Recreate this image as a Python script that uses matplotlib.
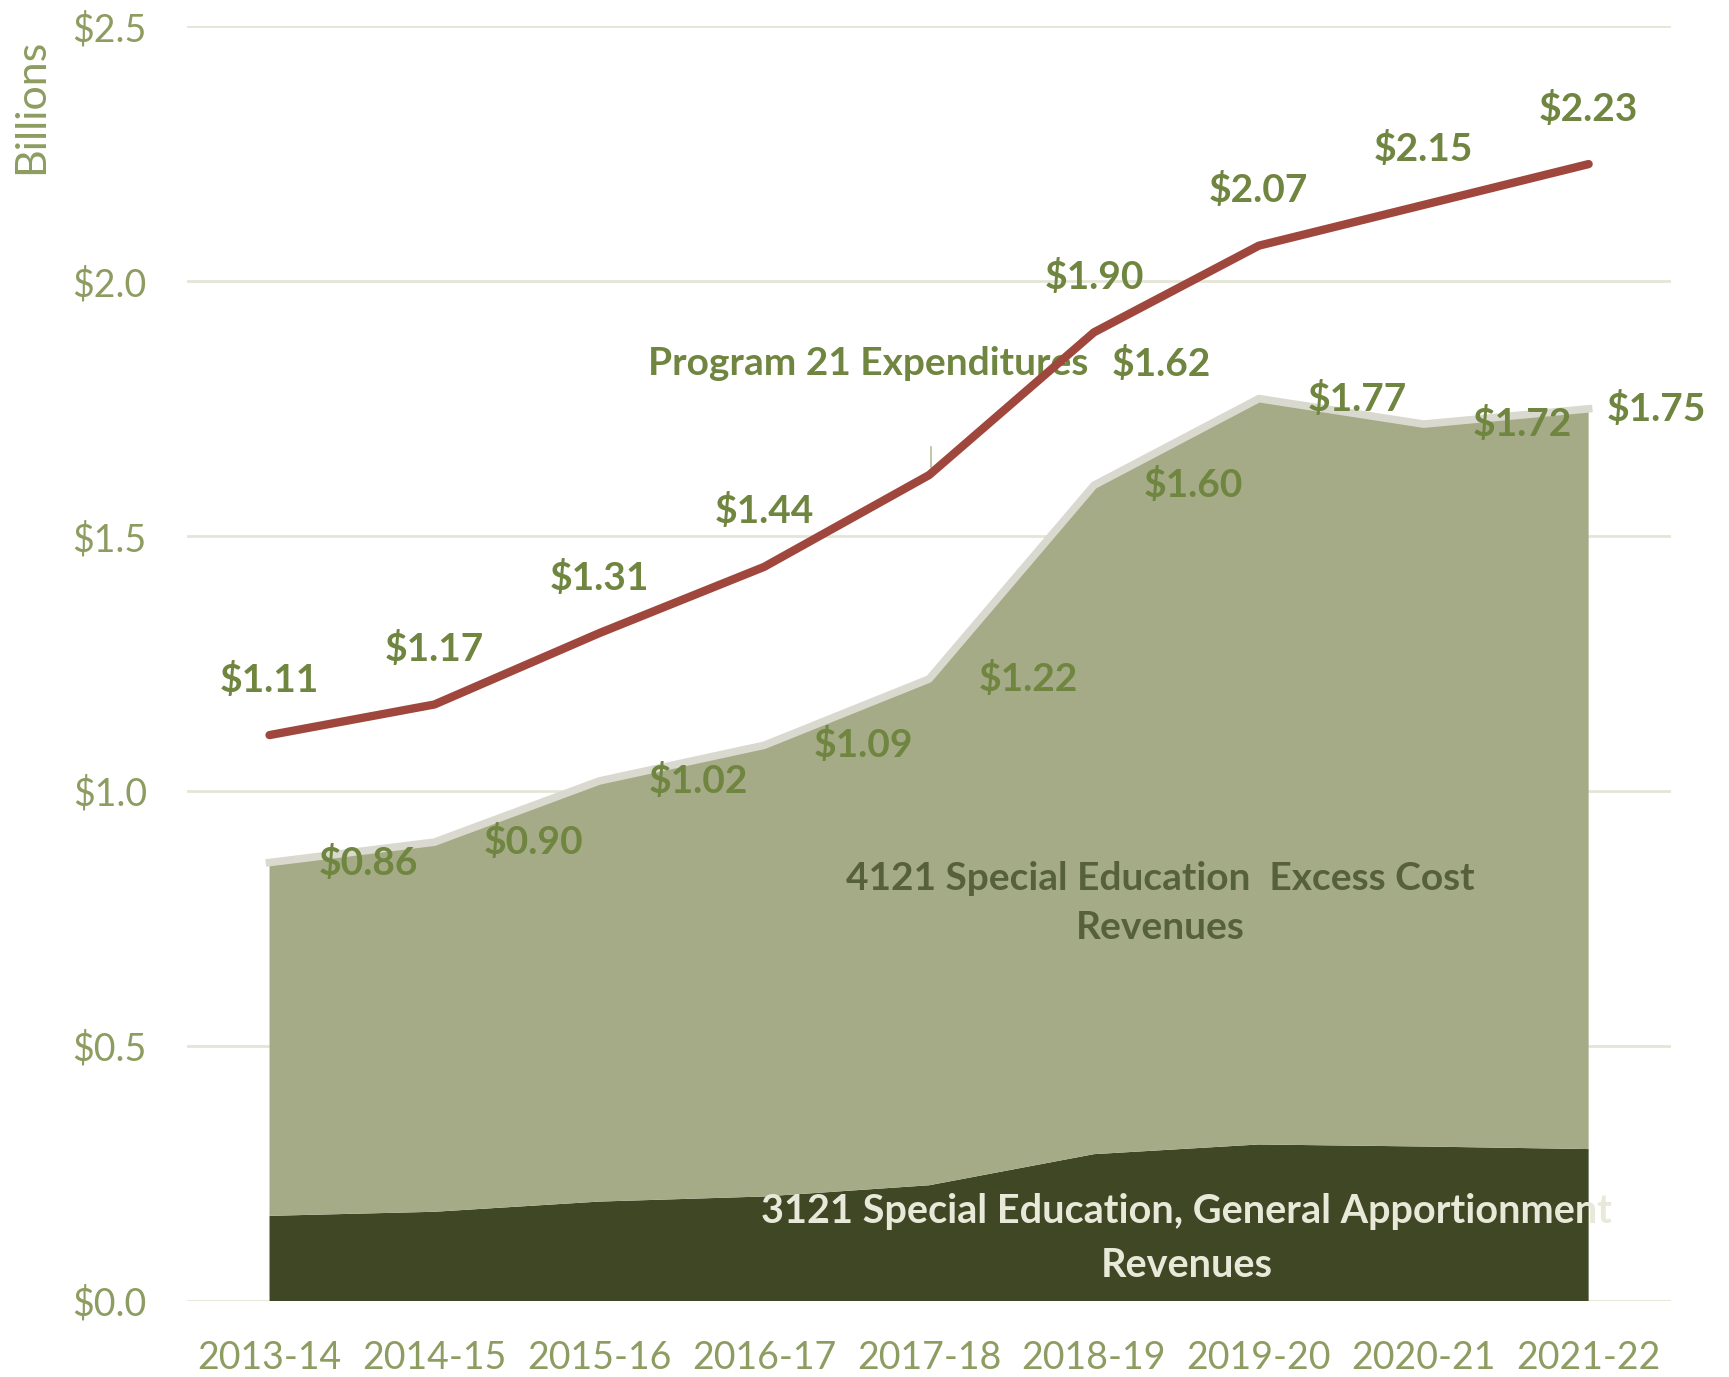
import matplotlib
matplotlib.use("Agg")
import matplotlib.pyplot as plt
import numpy as np

years = ["2013-14", "2014-15", "2015-16", "2016-17", "2017-18",
         "2018-19", "2019-20", "2020-21", "2021-22"]
apportionment_3121 = [0.167, 0.175, 0.195, 0.205, 0.227, 0.288, 0.307, 0.303, 0.298]
total_revenues = [0.86, 0.90, 1.02, 1.09, 1.22, 1.60, 1.77, 1.72, 1.75]
expenditures = [1.11, 1.17, 1.31, 1.44, 1.62, 1.90, 2.07, 2.15, 2.23]
yticks = [0.0, 0.5, 1.0, 1.5, 2.0, 2.5]

plt.rcParams['font.family'] = ['Lato', 'DejaVu Sans']

C_LIGHT = '#a4ab86'
C_DARK = '#404725'
C_RED = '#a0473d'
C_EDGE = '#d9d9cf'
C_LABEL = '#6f8540'
C_TICK = '#8d9c60'
C_GRID = '#e3e6d6'

fig = plt.figure(figsize=(17.29, 13.77), dpi=100)
ax = fig.add_axes([0.1082, 0.0552, 0.8583, 0.9256])

x = np.arange(len(years))
excess = np.array(total_revenues) - np.array(apportionment_3121)

ax.stackplot(x, apportionment_3121, excess, colors=[C_DARK, C_LIGHT], zorder=2)
ax.plot(x, total_revenues, color=C_EDGE, lw=5.5, zorder=3, solid_joinstyle='round')
ax.plot(x, expenditures, color=C_RED, lw=6.0, zorder=6, solid_capstyle='round',
        solid_joinstyle='round')

ax.set_xlim(-0.5, 8.5)
ax.set_ylim(0, 2.5)
ax.set_yticks(yticks)
ax.set_yticklabels([f"${v:.1f}" for v in yticks])
ax.set_xticks(x)
ax.set_xticklabels(years)
ax.tick_params(axis='both', length=0, labelsize=27, colors=C_TICK)
ax.tick_params(axis='y', pad=29)
ax.tick_params(axis='x', pad=28)
for s in ax.spines.values():
    s.set_visible(False)
ax.grid(axis='y', color=C_GRID, lw=2, zorder=0)
ax.set_axisbelow(True)

fig.text(0.018, 0.923, "Billions", rotation=90, ha='center', va='center',
         fontsize=31, color=C_TICK)

LBL = 28
# expenditure labels
for i, v in enumerate(expenditures):
    if i == 4:
        ax.text(5.41, 1.838, f"${v:.2f}", ha='center', va='center',
                fontsize=LBL, fontweight='bold', color=C_LABEL, zorder=5)
        ax.plot([4.01, 4.01], [v + 0.015, v + 0.055], color='#b8bc9a', lw=1.2, zorder=5)
    else:
        ax.annotate(f"${v:.2f}", (i, v), xytext=(0, 40), textcoords='offset points',
                    ha='center', va='center', fontsize=LBL, fontweight='bold',
                    color=C_LABEL, zorder=5)

# revenue labels
for i, v in enumerate(total_revenues):
    xi = i + 0.6 if i < len(total_revenues) - 1 else i + 0.41
    ax.text(xi, v, f"${v:.2f}", ha='center', va='center', fontsize=LBL,
            fontweight='bold', color=C_LABEL, zorder=5)

ax.text(3.63, 1.838, "Program 21 Expenditures", ha='center', va='center',
        fontsize=28, fontweight='bold', color=C_LABEL, zorder=4)
ax.text(5.40, 0.781, "4121 Special Education  Excess Cost\nRevenues", ha='center',
        va='center', fontsize=28, fontweight='bold', color='#56613a',
        linespacing=1.5, zorder=4)
ax.text(5.56, 0.123, "3121 Special Education, General Apportionment\nRevenues",
        ha='center', va='center', fontsize=28.5, fontweight='bold', color='#e9e9da',
        linespacing=1.55, zorder=4)

fig.savefig("out.png", dpi=100)
